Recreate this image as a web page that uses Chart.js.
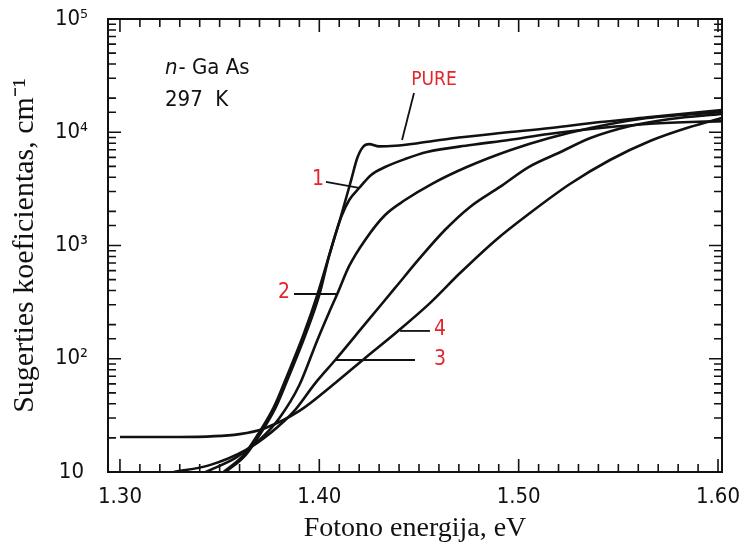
<!DOCTYPE html>
<html>
<head>
<meta charset="utf-8">
<script src="https://cdn.jsdelivr.net/npm/chart.js@4.4.1/dist/chart.umd.min.js"></script>
<style>
  html, body { margin: 0; padding: 0; background: #fff; }
  #chart { display: block; }
</style>
</head>
<body>
<canvas id="chart" width="743" height="552"></canvas>
<script>
// Photon energy (eV) and absorption coefficient (cm^-1)
const pureE = [1.353, 1.363, 1.370, 1.378, 1.385, 1.393, 1.400, 1.405, 1.411, 1.416, 1.419, 1.422, 1.425, 1.430, 1.438, 1.450, 1.466, 1.491, 1.516, 1.541, 1.566, 1.602];
const pureA = [10, 14.1, 21.2, 36.8, 72, 162, 366, 822, 1850, 3800, 5900, 7450, 7850, 7500, 7600, 8030, 8800, 9850, 10900, 12300, 13600, 15700];

const c1E = [1.352, 1.362, 1.369, 1.377, 1.384, 1.392, 1.399, 1.405, 1.411, 1.415, 1.420, 1.426, 1.433, 1.443, 1.454, 1.476, 1.495, 1.515, 1.541, 1.566, 1.602];
const c1A = [10, 14.1, 21.2, 36.8, 72, 162, 366, 822, 1790, 2520, 3220, 4200, 4930, 5800, 6690, 7710, 8540, 9660, 10900, 11900, 12550];

const c2E = [1.343, 1.358, 1.370, 1.380, 1.390, 1.399, 1.405, 1.409, 1.415, 1.423, 1.433, 1.443, 1.457, 1.474, 1.496, 1.515, 1.536, 1.561, 1.602];
const c2A = [10, 13.3, 19.2, 30, 58.6, 146, 259, 373, 660, 1120, 1860, 2520, 3540, 4930, 6970, 8860, 10900, 13100, 15100];

const c3E = [1.327, 1.345, 1.363, 1.376, 1.387, 1.398, 1.408, 1.423, 1.438, 1.4505, 1.463, 1.4756, 1.4906, 1.505, 1.521, 1.536, 1.556, 1.576, 1.602];
const c3A = [10, 11.5, 15.6, 22.5, 33.9, 61, 97.5, 203, 422, 777, 1370, 2190, 3290, 4930, 6690, 8890, 11350, 13090, 14490];

const c4E = [1.300, 1.330, 1.360, 1.373, 1.390, 1.408, 1.423, 1.4395, 1.4555, 1.4706, 1.4886, 1.5057, 1.5257, 1.5458, 1.5659, 1.5859, 1.602];
const c4A = [20.4, 20.4, 21.6, 24.5, 34.6, 61.1, 101.6, 176, 310, 571, 1120, 1936, 3490, 5690, 8370, 11120, 13360];

const xTickLabels = ['1.30', '1.40', '1.50', '1.60'];
const yTickLabels = ['10', '10²', '10³', '10⁴', '10⁵'];

const lineFont = '"DejaVu Sans Condensed", "Liberation Sans Narrow", "Arial Narrow", sans-serif';
const serifFont = '"Liberation Serif", "Times New Roman", serif';
const red = '#e3262c';

function pts(xs, ys) {
    return xs.map((x, i) => ({ x: x, y: ys[i] }));
}

function curve(label, xs, ys) {
    return {
        label: label,
        data: pts(xs, ys),
        borderColor: '#111',
        borderWidth: 2.6,
        pointRadius: 0,
        cubicInterpolationMode: 'monotone',
        fill: false
    };
}

// Text labels and leader lines, placed in data units
const notes = [
    { text: 'PURE', x: 1.4575, y: 28900, color: red, size: 19, line: [[1.4475, 22200], [1.4415, 8540]] },
    { text: '1', x: 1.3993, y: 3790, color: red, size: 21, line: [[1.4033, 3640], [1.4199, 3220]] },
    { text: '2', x: 1.3823, y: 381, color: red, size: 21, line: [[1.3873, 373], [1.4089, 373]] },
    { text: '4', x: 1.4605, y: 180, color: red, size: 21, line: [[1.4405, 176], [1.4555, 176]] },
    { text: '3', x: 1.4605, y: 97.5, color: red, size: 21, line: [[1.4084, 97.5], [1.4480, 97.5]] }
];

// Frame with inward ticks on all four sides
const framePlugin = {
    id: 'frame',
    afterDatasetsDraw(chart) {
        const { ctx, chartArea: a, scales } = chart;
        ctx.save();
        ctx.strokeStyle = '#111';
        ctx.lineWidth = 2;
        ctx.strokeRect(a.left, a.top, a.right - a.left, a.bottom - a.top);
        ctx.lineWidth = 1.6;
        ctx.beginPath();
        scales.x.ticks.forEach(t => {
            const px = scales.x.getPixelForValue(t.value);
            const major = Math.abs(t.value * 10 - Math.round(t.value * 10)) < 1e-6;
            const len = major ? 13 : 8;
            ctx.moveTo(px, a.bottom); ctx.lineTo(px, a.bottom - len);
            ctx.moveTo(px, a.top); ctx.lineTo(px, a.top + len);
        });
        scales.y.ticks.forEach(t => {
            const py = scales.y.getPixelForValue(t.value);
            const lg = Math.log10(t.value);
            const major = Math.abs(lg - Math.round(lg)) < 1e-6;
            const len = major ? 13 : 8;
            ctx.moveTo(a.left, py); ctx.lineTo(a.left + len, py);
            ctx.moveTo(a.right, py); ctx.lineTo(a.right - len, py);
        });
        ctx.stroke();
        ctx.restore();
    }
};

const notesPlugin = {
    id: 'notes',
    afterDatasetsDraw(chart) {
        const { ctx, scales } = chart;
        const X = v => scales.x.getPixelForValue(v);
        const Y = v => scales.y.getPixelForValue(v);
        ctx.save();
        ctx.textBaseline = 'middle';

        // sample description
        ctx.fillStyle = '#111';
        ctx.textAlign = 'left';
        const gx = X(1.3226), gy = Y(36900);
        ctx.font = 'italic 22px ' + lineFont;
        ctx.fillText('n', gx, gy);
        const nw = ctx.measureText('n').width;
        ctx.font = '22px ' + lineFont;
        ctx.fillText('- Ga As', gx + nw + 1, gy);
        ctx.fillText('297  K', gx, Y(19300));

        ctx.strokeStyle = '#111';
        ctx.lineWidth = 1.8;
        notes.forEach(n => {
            ctx.beginPath();
            ctx.moveTo(X(n.line[0][0]), Y(n.line[0][1]));
            ctx.lineTo(X(n.line[1][0]), Y(n.line[1][1]));
            ctx.stroke();
            ctx.fillStyle = n.color;
            ctx.textAlign = 'center';
            ctx.font = n.size + 'px ' + lineFont;
            ctx.fillText(n.text, X(n.x), Y(n.y));
        });
        ctx.restore();
    }
};

const ctx = document.getElementById('chart').getContext('2d');
new Chart(ctx, {
    type: 'line',
    data: {
        datasets: [
            curve('PURE', pureE, pureA),
            curve('1', c1E, c1A),
            curve('2', c2E, c2A),
            curve('3', c3E, c3A),
            curve('4', c4E, c4A)
        ]
    },
    options: {
        responsive: false,
        animation: false,
        devicePixelRatio: 1,
        layout: { padding: { top: 19, right: 21, left: 0, bottom: 0 } },
        plugins: {
            legend: { display: false },
            tooltip: { enabled: false }
        },
        scales: {
            x: {
                type: 'linear',
                min: 1.294,
                max: 1.602,
                grid: { display: false },
                border: { display: false },
                afterBuildTicks(scale) {
                    const t = [];
                    for (let i = 130; i <= 160; i++) t.push({ value: i / 100 });
                    scale.ticks = t;
                },
                afterFit(scale) {
                    scale.height = 80;
                    scale.paddingLeft = 0;
                    scale.paddingRight = 0;
                },
                ticks: {
                    autoSkip: false,
                    maxRotation: 0,
                    padding: 4,
                    color: '#111',
                    font: { family: lineFont, size: 22 },
                    callback(value) {
                        const k = Math.round(value * 100);
                        return k % 10 === 0 ? xTickLabels[(k - 130) / 10] : '';
                    }
                },
                title: {
                    display: true,
                    text: 'Fotono energija, eV',
                    color: '#111',
                    font: { family: serifFont, size: 28 },
                    padding: { top: 0, bottom: 7 }
                }
            },
            y: {
                type: 'logarithmic',
                min: 10,
                max: 100000,
                grid: { display: false },
                border: { display: false },
                afterFit(scale) {
                    scale.width = 108;
                    scale.paddingTop = 0;
                    scale.paddingBottom = 0;
                },
                ticks: {
                    autoSkip: false,
                    padding: 12,
                    crossAlign: 'center',
                    color: '#111',
                    font: { family: lineFont, size: 22 },
                    callback(value) {
                        const lg = Math.log10(value);
                        if (Math.abs(lg - Math.round(lg)) > 1e-6) return '';
                        return yTickLabels[Math.round(lg) - 1];
                    }
                },
                title: {
                    display: true,
                    text: 'Sugerties koeficientas, cm⁻¹',
                    color: '#111',
                    font: { family: serifFont, size: 30 },
                    padding: { top: 7, bottom: 0 }
                }
            }
        }
    },
    plugins: [framePlugin, notesPlugin]
});
</script>
</body>
</html>
